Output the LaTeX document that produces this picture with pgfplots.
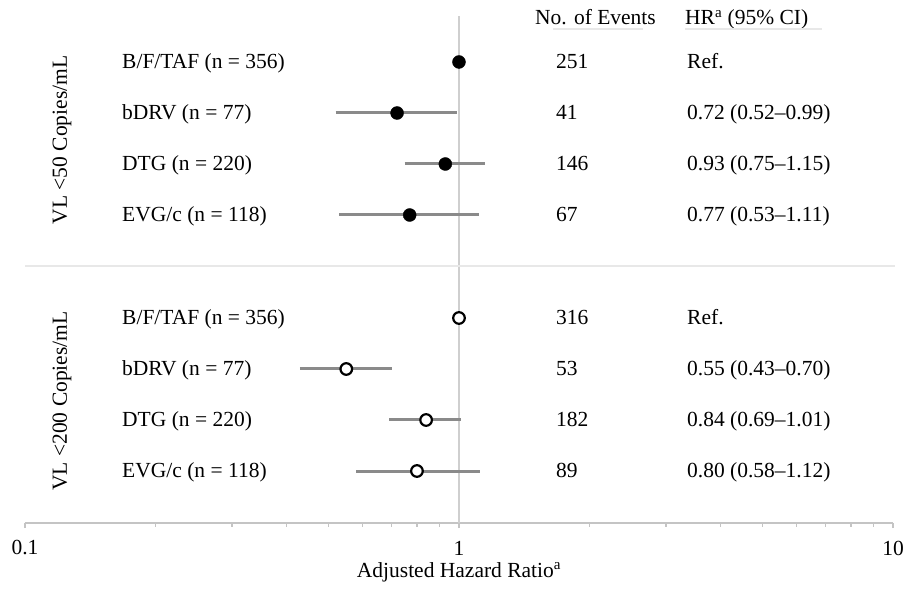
\documentclass[border=0pt]{standalone}
\usepackage{pgfplots}
\pgfplotsset{compat=1.18}
\usepackage{fontspec}
\setmainfont{Liberation Serif}
\definecolor{cigray}{HTML}{8A8A8A}
\definecolor{refgray}{HTML}{CFCFCF}
\definecolor{divgray}{HTML}{E8E8E8}
\definecolor{axgray}{HTML}{C4C4C4}
\begin{document}
\fontsize{21.5bp}{25bp}\selectfont
\begin{tikzpicture}
\useasboundingbox (-25bp,-68bp) rectangle (880bp,523bp);
\begin{axis}[
  at={(0,0)}, anchor=south west,
  scale only axis, width=868bp, height=507bp,
  xmode=log, xmin=0.1, xmax=10, ymin=0, ymax=507,
  axis y line=none, axis x line*=bottom,
  x axis line style={axgray, line width=1.5bp},
  xtick={0.1,1,10}, xticklabels={0.1,1,10},
  tick align=outside, xtick pos=bottom,
  major tick length=5bp, minor tick length=3.5bp,
  every tick/.style={axgray, line width=1.2bp},
  xticklabel style={font=\fontsize{21.5bp}{25bp}\selectfont, anchor=center, yshift=-20bp},
  /pgf/number format/assume math mode=true,
  clip=false,
]
% reference line and divider
\addplot[refgray, line width=2bp] coordinates {(1,0) (1,507)};
\addplot[divgray, line width=2.5bp] coordinates {(0.1,257) (10.1,257)};
% CIs, VL <50
\addplot[cigray, line width=3bp] coordinates {(0.52,410) (0.99,410)};
\addplot[cigray, line width=3bp] coordinates {(0.75,359) (1.15,359)};
\addplot[cigray, line width=3bp] coordinates {(0.53,308) (1.11,308)};
% CIs, VL <200
\addplot[cigray, line width=3bp] coordinates {(0.43,154) (0.70,154)};
\addplot[cigray, line width=3bp] coordinates {(0.69,103) (1.01,103)};
\addplot[cigray, line width=3bp] coordinates {(0.58,52) (1.12,52)};
% points
\addplot[only marks, mark=*, mark size=6.5bp, black] coordinates {(1.0,461) (0.72,410) (0.93,359) (0.77,308)};
\addplot[only marks, mark=*, mark size=5.8bp, draw=black, fill=white, line width=2.2bp] coordinates {(1.0,205) (0.55,154) (0.84,103) (0.80,52)};
\end{axis}
% header
\node[anchor=base west, inner sep=0] at (510bp,498bp) {No. of Events};
\node[anchor=base west, inner sep=0] at (660bp,498bp) {HR\textsuperscript{a} (95\% CI)};
\draw[divgray, line width=2bp] (528bp,494bp) -- (618bp,494bp);
\draw[divgray, line width=2bp] (660bp,494bp) -- (797bp,494bp);
% group labels
\node[rotate=90, inner sep=0] at (37bp,383bp) {VL <50 Copies/mL};
\node[rotate=90, inner sep=0] at (37bp,122bp) {VL <200 Copies/mL};
% rows
\foreach \y/\lab/\ev/\hr in {
  461/{B/F/TAF (n = 356)}/251/{Ref.},
  410/{bDRV (n = 77)}/41/{0.72 (0.52–0.99)},
  359/{DTG (n = 220)}/146/{0.93 (0.75–1.15)},
  308/{EVG/c (n = 118)}/67/{0.77 (0.53–1.11)},
  205/{B/F/TAF (n = 356)}/316/{Ref.},
  154/{bDRV (n = 77)}/53/{0.55 (0.43–0.70)},
  103/{DTG (n = 220)}/182/{0.84 (0.69–1.01)},
  52/{EVG/c (n = 118)}/89/{0.80 (0.58–1.12)}}{
  \node[anchor=base west, inner sep=0] at (97bp,\y bp-7bp) {\lab};
  \node[anchor=base west, inner sep=0] at (531bp,\y bp-7bp) {\ev};
  \node[anchor=base west, inner sep=0] at (662bp,\y bp-7bp) {\hr};
}
% x label
\node[inner sep=0] at (434bp,-49bp) {Adjusted Hazard Ratio\textsuperscript{a}};
\end{tikzpicture}
\end{document}
